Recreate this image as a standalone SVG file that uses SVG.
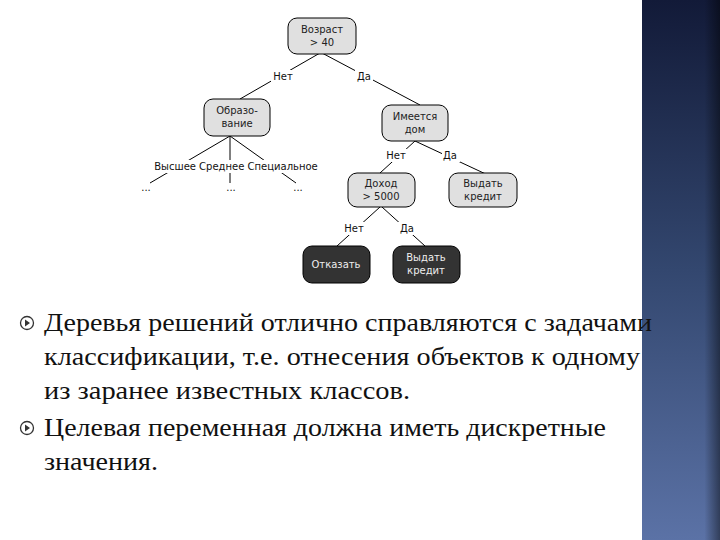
<svg xmlns="http://www.w3.org/2000/svg" width="720" height="540" viewBox="0 0 720 540">
<defs>
<linearGradient id="pg" x1="0" y1="0" x2="0" y2="1"><stop offset="0" stop-color="#121a38"/><stop offset="0.5" stop-color="#33476f"/><stop offset="1" stop-color="#5b72a6"/></linearGradient>
<linearGradient id="pe" x1="0" y1="0" x2="1" y2="0"><stop offset="0.8" stop-color="#000" stop-opacity="0"/><stop offset="1" stop-color="#000" stop-opacity="0.45"/></linearGradient>
<style>
.n rect{fill:#e0e0e0;stroke:#000;stroke-width:1}
.d rect{fill:#333;stroke:#000;stroke-width:1}
.t{font-family:"DejaVu Sans",sans-serif;font-size:10px;fill:#222;text-anchor:middle}
.d .t{fill:#eee}
.l{font-family:"DejaVu Sans",sans-serif;font-size:10px;fill:#111;text-anchor:middle}
#conn line{stroke:#000;stroke-width:1}
.b{font-family:"Liberation Serif",serif;font-size:25px;fill:#111}
</style>
</defs>
<rect width="720" height="540" fill="#fff"/>
<rect x="642" y="0" width="78" height="540" fill="url(#pg)"/>
<rect x="642" y="0" width="78" height="540" fill="url(#pe)"/>
<g id="conn">
<line x1="320" y1="53" x2="240" y2="99"/><line x1="322" y1="53" x2="420" y2="105"/>
<line x1="230" y1="136" x2="150" y2="183"/><line x1="230" y1="136" x2="230" y2="183"/><line x1="230" y1="136" x2="296" y2="183"/>
<line x1="415" y1="141" x2="380" y2="173"/><line x1="415" y1="141" x2="490" y2="176"/>
<line x1="380" y1="207" x2="337" y2="246"/><line x1="382" y1="207" x2="425" y2="246"/>
</g>
<g id="labels">
<rect x="271" y="70" width="24" height="13" fill="#fff"/><text class="l" x="283" y="80">Нет</text>
<rect x="355" y="70" width="18" height="13" fill="#fff"/><text class="l" x="364" y="80">Да</text>
<rect x="148" y="160" width="176" height="13" fill="#fff"/><text class="l" x="236" y="170">Высшее Среднее Специальное</text>
<text class="l" x="146" y="191">...</text><text class="l" x="231" y="191">...</text><text class="l" x="298" y="191">...</text>
<rect x="385" y="149" width="24" height="13" fill="#fff"/><text class="l" x="396" y="159">Нет</text>
<rect x="442" y="149" width="18" height="13" fill="#fff"/><text class="l" x="450" y="159">Да</text>
<rect x="342" y="222" width="24" height="13" fill="#fff"/><text class="l" x="354" y="232">Нет</text>
<rect x="398" y="222" width="18" height="13" fill="#fff"/><text class="l" x="407" y="232">Да</text>
</g>
<g id="n1" class="n"><rect x="288" y="18" width="68" height="36" rx="9"/><text class="t" x="322" y="33">Возраст</text><text class="t" x="322" y="46">&gt; 40</text></g>
<g id="n2" class="n"><rect x="204" y="99" width="66" height="37" rx="9"/><text class="t" x="237" y="114">Образо-</text><text class="t" x="237" y="127">вание</text></g>
<g id="n3" class="n"><rect x="382" y="105" width="66" height="36" rx="9"/><text class="t" x="415" y="120">Имеется</text><text class="t" x="415" y="133">дом</text></g>
<g id="n4" class="n"><rect x="348" y="173" width="67" height="34" rx="9"/><text class="t" x="381" y="187">Доход</text><text class="t" x="381" y="200">&gt; 5000</text></g>
<g id="n5" class="n"><rect x="449" y="173" width="68" height="34" rx="9"/><text class="t" x="483" y="187">Выдать</text><text class="t" x="483" y="200">кредит</text></g>
<g id="n6" class="d"><rect x="303" y="246" width="67" height="37" rx="9"/><text class="t" x="336" y="268">Отказать</text></g>
<g id="n7" class="d"><rect x="393" y="246" width="67" height="37" rx="9"/><text class="t" x="426" y="261">Выдать</text><text class="t" x="426" y="274">кредит</text></g>
<g id="text">
<g fill="none" stroke="#333" stroke-width="1.3"><circle cx="27" cy="323" r="6.5"/><circle cx="27" cy="428" r="6.5"/></g>
<path d="M25 319.5 L30 323 L25 326.5Z M25 424.5 L30 428 L25 431.5Z" fill="#333"/>
<text class="b" x="44" y="331" textLength="608" lengthAdjust="spacingAndGlyphs">Деревья решений отлично справляются с задачами</text>
<text class="b" x="44" y="365" textLength="596" lengthAdjust="spacingAndGlyphs">классификации, т.е. отнесения объектов к одному</text>
<text class="b" x="44" y="399" textLength="366" lengthAdjust="spacingAndGlyphs">из заранее известных классов.</text>
<text class="b" x="44" y="436" textLength="562" lengthAdjust="spacingAndGlyphs">Целевая переменная должна иметь дискретные</text>
<text class="b" x="44" y="470" textLength="114" lengthAdjust="spacingAndGlyphs">значения.</text>
</g>
</svg>
